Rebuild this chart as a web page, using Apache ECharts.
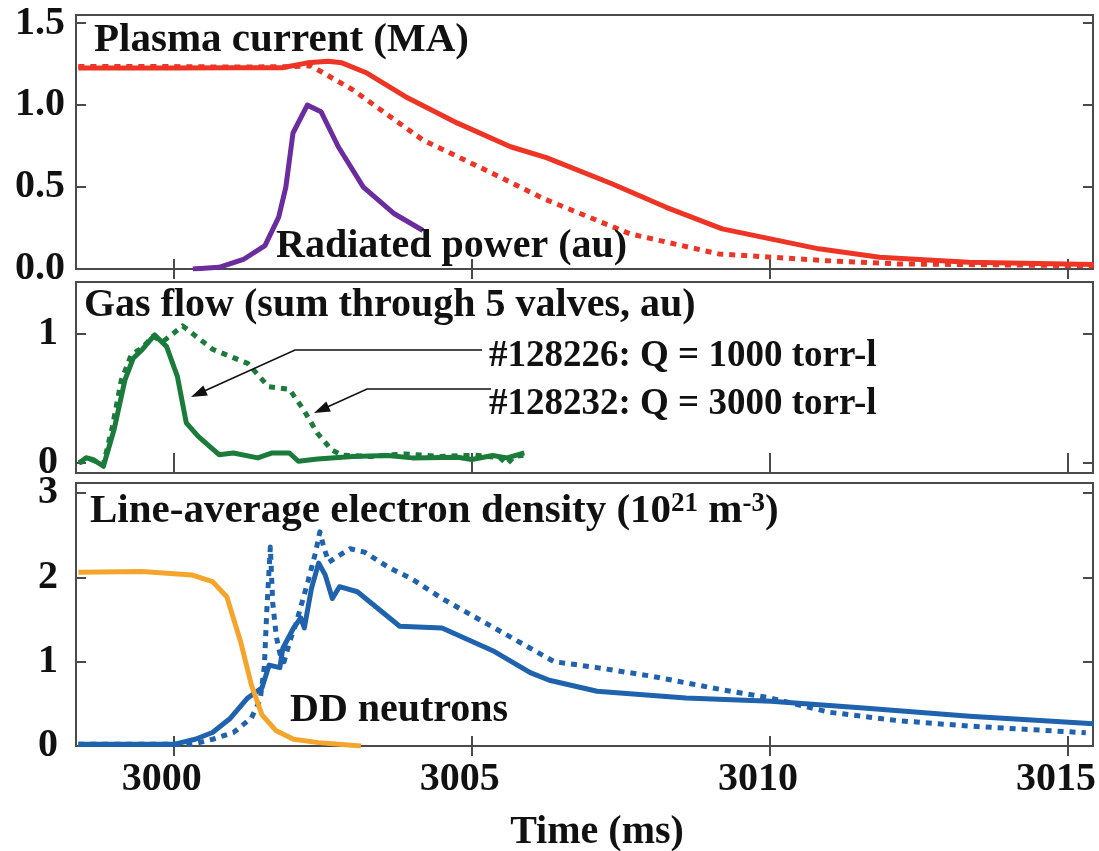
<!DOCTYPE html>
<html>
<head>
<meta charset="utf-8">
<script src="https://cdn.jsdelivr.net/npm/echarts@6/dist/echarts.min.js"></script>
<style>
html,body{margin:0;padding:0;background:#fff;}
#chart{width:1099px;height:851px;}
</style>
</head>
<body>
<div id="chart"></div>
<script>
// ---------- tick labels ----------
const timeTicks = [3000, 3005, 3010, 3015];
const ipTicks = [0, 0.5, 1.0, 1.5];
const gasTicks = [0, 1];
const densTicks = [0, 1, 2, 3];

// ---------- panel 1: plasma current & radiated power ----------
const plasmaCurrent128226 = [
  [2998.4,1.227],[3000.0,1.227],[3001.0,1.228],[3001.82,1.228],[3002.24,1.258],[3002.59,1.268],
  [3002.82,1.258],[3003.24,1.196],[3003.88,1.053],[3004.76,0.89],[3005.65,0.746],
  [3006.25,0.68],[3007.35,0.52],[3008.25,0.378],[3009.2,0.245],[3010.82,0.123],
  [3011.84,0.072],[3013.33,0.041],[3015.43,0.027]
];
const plasmaCurrent128232 = [
  [2998.4,1.235],[3000.0,1.235],[3001.0,1.232],[3002.0,1.235],[3002.3,1.24],
  [3003.0,1.094],[3004.18,0.787],[3005.35,0.583],[3006.2,0.43],[3007.65,0.215],
  [3009.14,0.092],[3010.94,0.051],[3012.14,0.031],[3015.43,0.02]
];
const radiatedPower = [
  [3000.32,0.0],[3000.76,0.01],[3001.18,0.061],[3001.53,0.143],[3001.76,0.317],
  [3001.88,0.50],[3002.0,0.83],[3002.24,1.0],[3002.47,0.96],[3002.76,0.746],
  [3003.18,0.50],[3003.7,0.337],[3004.18,0.235]
];

// ---------- panel 2: gas flow ----------
const gasFlow128226 = [
  [2998.41,0.0],[2998.53,0.04],[2998.65,0.026],[2998.82,-0.026],[2999.0,0.26],
  [2999.18,0.64],[2999.32,0.81],[2999.47,0.876],[2999.68,0.99],[2999.88,0.9],
  [3000.06,0.67],[3000.21,0.31],[3000.41,0.206],[3000.76,0.064],[3001.0,0.077],
  [3001.41,0.039],[3001.65,0.077],[3001.94,0.077],[3002.09,0.013],[3002.41,0.031],
  [3003.0,0.05],[3003.59,0.057],[3004.0,0.039],[3004.76,0.044],[3005.0,0.026],
  [3005.35,0.057],[3005.59,0.039],[3005.88,0.077]
];
const gasFlow128232 = [
  [2998.41,0.0],[2998.59,0.03],[2998.82,-0.01],[2998.97,0.28],[2999.12,0.64],
  [2999.29,0.84],[2999.47,0.89],[2999.65,0.98],[2999.82,0.94],[3000.15,1.06],
  [3000.65,0.88],[3001.24,0.77],[3001.59,0.59],[3001.94,0.57],[3002.18,0.41],
  [3002.41,0.23],[3002.65,0.10],[3002.82,0.06],[3003.29,0.05],[3003.88,0.07],
  [3004.47,0.05],[3005.06,0.06],[3005.47,0.04],[3005.59,-0.01],[3005.71,0.05],[3005.88,0.06]
];

// ---------- panel 3: density & neutrons ----------
const density128226 = [
  [2998.4,0.02],[3000.0,0.02],[3000.36,0.08],[3000.65,0.16],[3000.95,0.33],
  [3001.24,0.57],[3001.48,0.69],[3001.6,0.96],[3001.78,0.93],[3001.83,1.16],
  [3002.01,1.40],[3002.13,1.52],[3002.19,1.40],[3002.31,1.87],[3002.43,2.17],
  [3002.54,2.03],[3002.66,1.75],[3002.78,1.89],[3003.08,1.83],[3003.79,1.42],
  [3004.5,1.40],[3005.38,1.12],[3005.98,0.87],[3006.3,0.78],[3007.1,0.65],
  [3008.59,0.57],[3010.02,0.53],[3011.57,0.45],[3013.35,0.354],[3015.43,0.264]
];
const density128232 = [
  [2998.4,0.02],[3000.3,0.02],[3000.65,0.08],[3001.0,0.16],[3001.3,0.33],
  [3001.45,0.55],[3001.52,0.95],[3001.56,1.6],[3001.62,2.36],[3001.66,1.7],
  [3001.72,1.30],[3001.78,1.1],[3001.85,1.0],[3001.95,1.25],[3002.05,1.45],
  [3002.15,1.7],[3002.25,1.95],[3002.38,2.3],[3002.45,2.54],[3002.52,2.35],
  [3002.6,2.18],[3002.75,2.25],[3002.96,2.34],[3003.2,2.3],[3003.6,2.12],
  [3004.0,1.98],[3004.5,1.75],[3005.0,1.55],[3005.38,1.40],[3005.98,1.16],
  [3006.38,1.0],[3007.1,0.93],[3008.0,0.83],[3009.18,0.67],[3010.0,0.57],
  [3011.0,0.40],[3012.16,0.30],[3013.35,0.236],[3015.3,0.157]
];
const ddNeutrons = [
  [2998.4,2.06],[2999.47,2.07],[3000.3,2.03],[3000.65,1.95],[3000.89,1.77],
  [3001.12,1.24],[3001.3,0.73],[3001.48,0.37],[3001.72,0.18],[3002.01,0.08],
  [3002.43,0.04],[3003.14,0.0]
];

// ---------- styling ----------
const FONT = 'Liberation Serif';
const C_RED = '#ee3424', C_PURPLE = '#6a2c9e', C_GREEN = '#1b7b3a', C_BLUE = '#1f62ad', C_ORANGE = '#f5a42c';
const FRAME = '#4a4a4a';
const XMIN = 2998.36, XMAX = 3015.42;

const grids = [
  {left: 76, right: 6, top: 15, height: 254},
  {left: 76, right: 6, top: 282, height: 191},
  {left: 76, right: 6, top: 483, height: 263}
].map(g => Object.assign(g, {show: true, borderColor: FRAME, borderWidth: 2, containLabel: false}));

function xAx(grid, pos, labels) {
  return {
    type: 'value', gridIndex: grid, position: pos, min: XMIN, max: XMAX,
    axisLine: {show: false}, splitLine: {show: false},
    axisTick: {show: true, inside: true, length: 10, customValues: timeTicks, lineStyle: {color: FRAME, width: 2}},
    axisLabel: {show: labels, customValues: timeTicks, margin: 14, padding: [0, 24, 0, 0],
      formatter: v => String(Math.round(v)),
      fontFamily: FONT, fontWeight: 'bold', fontSize: 40, color: '#111'}
  };
}
function yAx(grid, pos, min, max, ticks, labels, margin, fmt) {
  return {
    type: 'value', gridIndex: grid, position: pos, min: min, max: max,
    axisLine: {show: false}, splitLine: {show: false},
    axisTick: {show: true, inside: true, length: 10, customValues: ticks, lineStyle: {color: FRAME, width: 2}},
    axisLabel: {show: labels, customValues: ticks, margin: margin, formatter: fmt,
      fontFamily: FONT, fontWeight: 'bold', fontSize: 40, color: '#111'}
  };
}
const f1 = v => v.toFixed(1);
const f0 = v => String(Math.round(v));

function line(data, color, xi, yi, dotted, width) {
  return {
    type: 'line', data: data, xAxisIndex: xi, yAxisIndex: yi, symbol: 'none', smooth: false,
    clip: true, animation: false,
    lineStyle: {color: color, width: width || 5, type: dotted ? [6, 6] : 'solid', cap: 'butt', join: 'round'}
  };
}

function arrow(points, color) {
  const n = points.length;
  const tip = points[n - 1], prev = points[n - 2];
  const dx = tip[0] - prev[0], dy = tip[1] - prev[1];
  const L = Math.hypot(dx, dy), ux = dx / L, uy = dy / L;
  const hl = 16, hw = 5.5;
  const bx = tip[0] - ux * hl, by = tip[1] - uy * hl;
  const shaft = points.slice(0, n - 1).concat([[bx + ux * 2, by + uy * 2]]);
  return [
    {type: 'polyline', shape: {points: shaft}, style: {stroke: color, lineWidth: 1.6, fill: null}, z: 100},
    {type: 'polygon', shape: {points: [tip, [bx - uy * hw, by + ux * hw], [bx + uy * hw, by - ux * hw]]},
      style: {fill: color}, z: 100}
  ];
}

function label(text, x, y, size, extra) {
  return {
    type: 'text', x: x, y: y, z: 100,
    style: Object.assign({text: text, font: 'bold ' + size + 'px ' + FONT, fill: '#111', align: 'left', verticalAlign: 'middle'}, extra || {})
  };
}

const chart = echarts.init(document.getElementById('chart'), null, {renderer: 'canvas'});
chart.setOption({
  animation: false,
  backgroundColor: '#fff',
  grid: grids,
  xAxis: [xAx(0, 'bottom', false), xAx(0, 'top', false), xAx(1, 'bottom', false), xAx(1, 'top', false),
          xAx(2, 'bottom', true), xAx(2, 'top', false)],
  yAxis: [yAx(0, 'left', 0, 1.55, ipTicks, true, 11, f1), yAx(0, 'right', 0, 1.55, ipTicks, false, 8, f1),
          yAx(1, 'left', -0.078, 1.40, gasTicks, true, 18, f0), yAx(1, 'right', -0.078, 1.40, gasTicks, false, 8, f0),
          yAx(2, 'left', 0, 3.12, densTicks, true, 18, f0), yAx(2, 'right', 0, 3.12, densTicks, false, 8, f0)],
  series: [
    line(plasmaCurrent128232, C_RED, 0, 0, true),
    line(plasmaCurrent128226, C_RED, 0, 0, false),
    line(radiatedPower, C_PURPLE, 0, 0, false),
    line(gasFlow128232, C_GREEN, 2, 2, true),
    line(gasFlow128226, C_GREEN, 2, 2, false),
    line(density128232, C_BLUE, 4, 4, true),
    line(density128226, C_BLUE, 4, 4, false),
    line(ddNeutrons, C_ORANGE, 4, 4, false)
  ],
  graphic: [
    label('Plasma current (MA)', 94, 40, 41),
    label('Radiated power (au)', 276, 247, 40),
    label('Gas flow (sum through 5 valves, au)', 84, 306, 40),
    label('#128226: Q = 1000 torr-l', 489, 356, 37),
    label('#128232: Q = 3000 torr-l', 489, 404, 37),
    {
      type: 'text', x: 90, y: 511, z: 100,
      style: {
        text: '{a|Line-average electron density (10}{s|21}{a| m}{s|-3}{a|)}',
        align: 'left', verticalAlign: 'middle',
        rich: {
          a: {font: 'bold 41px ' + FONT, fill: '#111', lineHeight: 40, verticalAlign: 'middle'},
          s: {font: 'bold 27px ' + FONT, fill: '#111', lineHeight: 40, verticalAlign: 'top'}
        }
      }
    },
    label('DD neutrons', 290, 711, 40),
    label('Time (ms)', 597, 833, 40, {align: 'center'}),
    ...arrow([[482, 350], [295, 350], [191, 397]], '#111'),
    ...arrow([[491, 389], [367, 389], [314, 413]], '#111')
  ]
});
</script>
</body>
</html>
